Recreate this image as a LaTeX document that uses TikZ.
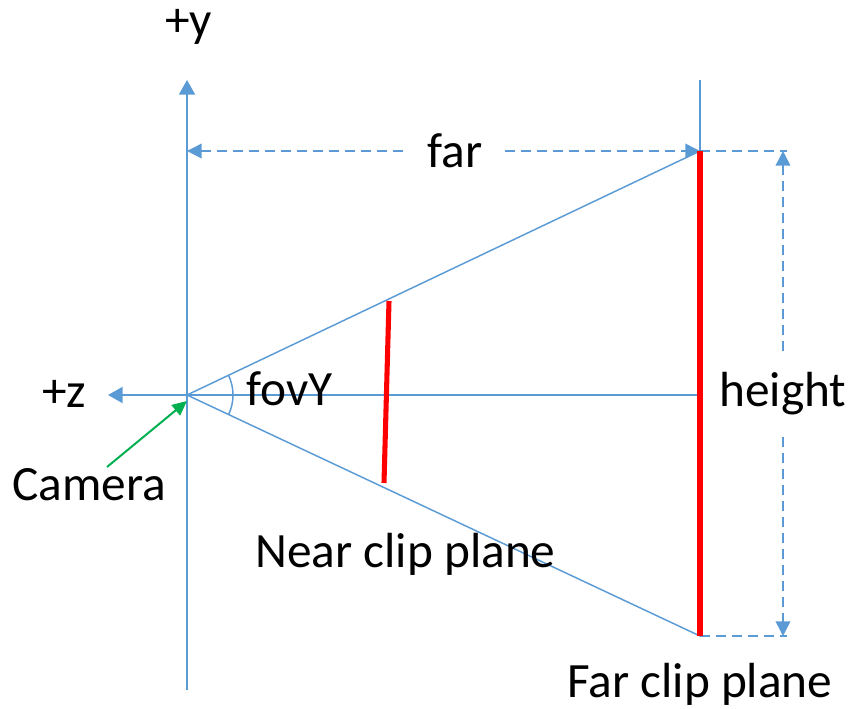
\documentclass[tikz,border=0pt]{standalone}
\usepackage{fontspec}
\setmainfont{Carlito}
\usetikzlibrary{arrows.meta}
\definecolor{axisblue}{RGB}{91,155,213}
\definecolor{camgreen}{RGB}{0,176,80}

\begin{document}
\begin{tikzpicture}[x=0.75pt,y=-0.75pt,
  blueline/.style={draw=axisblue,line width=1.1pt},
  axisline/.style={draw=axisblue,line width=1.5pt,-{Triangle[length=11pt,width=12pt]}},
  dimline/.style={draw=axisblue,line width=1.1pt,dash pattern=on 7.5pt off 4.5pt},
  cliplane/.style={draw=red,line width=4.5pt},
  lbl/.style={anchor=base west,inner sep=0pt,font=\fontsize{37}{42}\selectfont}]
\useasboundingbox (0,0) rectangle (853,709);
% points
\coordinate (O) at (187,395);
\coordinate (ytop) at (187,80);
\coordinate (ybot) at (187,690);
\coordinate (zleft) at (108,395);
\coordinate (zright) at (700,395);
\coordinate (fstick) at (700,80);
\coordinate (ftop) at (700,151);
\coordinate (fbot) at (700,636);
\coordinate (ntop) at (389,301);
\coordinate (nbot) at (384,483);
\coordinate (farL) at (187,151);
\coordinate (htop) at (783,151);
\coordinate (hbot) at (783,636);
\coordinate (etop) at (787,151);
\coordinate (ebot) at (787,636);
\coordinate (camtail) at (107,467);
\coordinate (camtip) at (187,401);
% frustum
\draw[blueline] (O) -- (ftop);
\draw[blueline] (O) -- (fbot);
\draw[blueline] (fstick) -- (ftop);
\draw[blueline] ([shift={(25.5:34.5pt)}]O) arc[start angle=25.5,end angle=-25.2,radius=34.5pt];
% axes
\draw[axisline] (ybot) -- (ytop);
\draw[axisline] (zright) -- (zleft);
% dimensions
\draw[dimline] (ftop) -- (etop);
\draw[dimline] (fbot) -- (ebot);
\draw[dimline,{Triangle[length=11pt,width=11pt]}-{Triangle[length=11pt,width=11pt]}] (farL) -- (ftop)
  node[pos=0.522,fill=white,inner xsep=15pt,inner ysep=1pt,font=\fontsize{37}{42}\selectfont] (farlbl) {far};
\draw[dimline,{Triangle[length=11pt,width=11pt]}-{Triangle[length=11pt,width=11pt]}] (htop) -- (hbot)
  node[midway,fill=white,inner xsep=1pt,inner ysep=13pt,font=\fontsize{37}{42}\selectfont] (heightlbl) {height};
% clip planes
\draw[cliplane] (ftop) -- (fbot);
\draw[line width=3.8pt,red] (ntop) -- (nbot);
% camera
\draw[camgreen,line width=1.5pt,-{Triangle[length=11pt,width=10pt]}] (camtail) -- (camtip);
% labels
\node[lbl] (ylbl) at (165,37) {+y};
\node[lbl] (zlbl) at (42,407) {+z};
\node[lbl] (camlbl) at (12,500) {Camera};
\node[lbl] (fovlbl) at (246,405) {fovY};
\node[lbl] (nearlbl) at (255,567) {Near clip plane};
\node[lbl] (farclbl) at (567,697) {Far clip plane};
\end{tikzpicture}
\end{document}
